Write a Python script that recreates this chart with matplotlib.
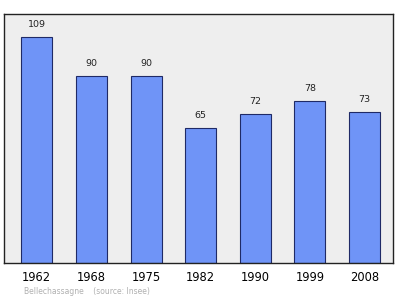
import matplotlib
matplotlib.use("Agg")
import matplotlib.pyplot as plt
import numpy as np

years = ["1962", "1968", "1975", "1982", "1990", "1999", "2008"]
population = [109, 90, 90, 65, 72, 78, 73]

fig = plt.figure(figsize=(4.0, 2.99), dpi=100)
ax = fig.add_axes([4 / 400, 1 - 263 / 299, 389 / 400, 249 / 299])
ax.set_facecolor("#eeeeee")

x = np.arange(len(years))
ax.bar(x, population, width=0.567, color="#6f94f7", edgecolor="#1f2a66", linewidth=0.8, zorder=2)

for xi, v in zip(x, population):
    ax.text(xi, v + 3.8, str(v), ha="center", va="bottom", fontsize=6.8, color="#222222")

ax.set_xlim(-0.6, 6.52)
ax.set_ylim(0, 120)
ax.set_yticks([])
ax.set_xticks(x)
ax.set_xticklabels(years, fontsize=8.3)
ax.tick_params(axis="x", length=0, pad=6)
for s in ax.spines.values():
    s.set_linewidth(1.0)
    s.set_color("#222222")

fig.text(24 / 400, 1 - 292 / 299, "Bellechassagne    (source: Insee)", fontsize=5.5, color="#b0b0b0", va="center")

fig.savefig("out.png", dpi=100)
